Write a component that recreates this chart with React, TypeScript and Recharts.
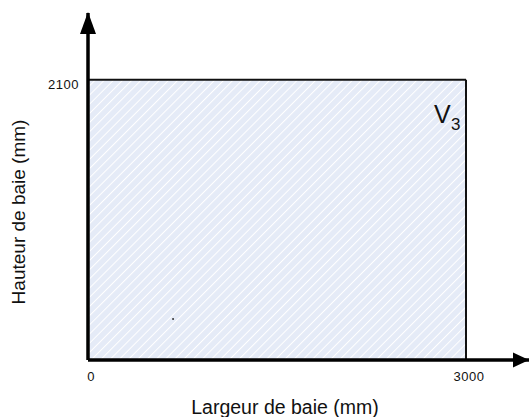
import React from 'react';
import { ComposedChart, XAxis, YAxis, ReferenceArea, ReferenceDot } from 'recharts';

const xTicks = [0, 3000];
const yTicks = [2100];
const xDomain = [0, 3500];
const yDomain = [0, 2600];
const bayWidth = 3000;
const bayHeight = 2100;
const markPoint = { x: 675, y: 307 };
const xTitle = 'Largeur de baie (mm)';
const yTitle = 'Hauteur de baie (mm)';
const zoneName = 'V';
const zoneIndex = '3';

const FONT = '"Liberation Sans", Arial, Helvetica, sans-serif';

const XTick = (props: any) => {
  const { x, y, payload } = props;
  return (
    <text x={x + 3} y={y} dy="0.71em" textAnchor="middle" fontFamily={FONT} fontSize={13} letterSpacing={0.5} fill="#111">
      {payload.value}
    </text>
  );
};

const YTick = (props: any) => {
  const { x, y, payload } = props;
  return (
    <text x={x - 1} y={y + 5} dy="0.355em" textAnchor="end" fontFamily={FONT} fontSize={13} letterSpacing={0.5} fill="#111">
      {payload.value}
    </text>
  );
};

const ZoneShape = (props: any) => {
  const { x, y, width, height } = props;
  return (
    <g>
      <defs>
        <pattern id="hatch" patternUnits="userSpaceOnUse" width="6.5" height="6.5" patternTransform="rotate(45)">
          <rect x="0" y="0" width="6.5" height="6.5" fill="#e5ebf7" />
          <line x1="0.5" y1="0" x2="0.5" y2="6.5" stroke="#ffffff" strokeWidth="1" />
        </pattern>
      </defs>
      <rect x={x} y={y} width={width} height={height} fill="url(#hatch)" />
      <line x1={x} y1={y} x2={x + width} y2={y} stroke="#111" strokeWidth={2} />
      <line x1={x + width} y1={y} x2={x + width} y2={y + height} stroke="#111" strokeWidth={2} />
      <text x={x + width - 32} y={y + 43} fontFamily={FONT} fontSize={25} fill="#111">{zoneName}</text>
      <text x={x + width - 15} y={y + 50} fontFamily={FONT} fontSize={17} fill="#111">{zoneIndex}</text>
    </g>
  );
};

const UpArrow = (props: any) => {
  const { cx, cy } = props;
  return <polygon points={`${cx},${cy - 1} ${cx - 8},${cy + 21} ${cx + 8},${cy + 21}`} fill="#000" />;
};

const RightArrow = (props: any) => {
  const { cx, cy } = props;
  return <polygon points={`${cx},${cy} ${cx - 16},${cy - 7.5} ${cx - 16},${cy + 7.5}`} fill="#000" />;
};

const XTitle = (props: any) => {
  const vb = props.viewBox || {};
  return (
    <text x={vb.x + 197} y={vb.y + 54} textAnchor="middle" fontFamily={FONT} fontSize={19.5} fill="#111">
      {xTitle}
    </text>
  );
};

const YTitle = () => {
  const cx = 25;
  const cy = 212;
  return (
    <text x={cx} y={cy} transform={`rotate(-90 ${cx} ${cy})`} textAnchor="middle" fontFamily={FONT} fontSize={19} fill="#111">
      {yTitle}
    </text>
  );
};

export default function App() {
  return (
    <div style={{ position: 'absolute', left: 0, top: 0, width: 529, height: 417, background: '#fff' }}>
      <ComposedChart width={529} height={417} data={[]} margin={{ top: 13, right: 0, bottom: 0, left: 0 }}>
        <XAxis
          type="number"
          dataKey="x"
          domain={xDomain}
          ticks={xTicks}
          allowDataOverflow
          height={57}
          tickLine={false}
          tickMargin={6}
          axisLine={{ stroke: '#000', strokeWidth: 3.5 }}
          tick={<XTick />}
          label={<XTitle />}
        />
        <YAxis
          type="number"
          dataKey="y"
          domain={yDomain}
          ticks={yTicks}
          allowDataOverflow
          width={88}
          tickLine={false}
          axisLine={{ stroke: '#000', strokeWidth: 3.5 }}
          tick={<YTick />}
          label={<YTitle />}
        />
        <ReferenceArea x1={0} x2={bayWidth} y1={0} y2={bayHeight} shape={<ZoneShape />} ifOverflow="visible" />
        <ReferenceDot x={markPoint.x} y={markPoint.y} r={1} fill="#333" stroke="none" ifOverflow="visible" />
        <ReferenceDot x={xDomain[0]} y={yDomain[1]} shape={<UpArrow />} ifOverflow="visible" />
        <ReferenceDot x={xDomain[1]} y={yDomain[0]} shape={<RightArrow />} ifOverflow="visible" />
      </ComposedChart>
    </div>
  );
}
